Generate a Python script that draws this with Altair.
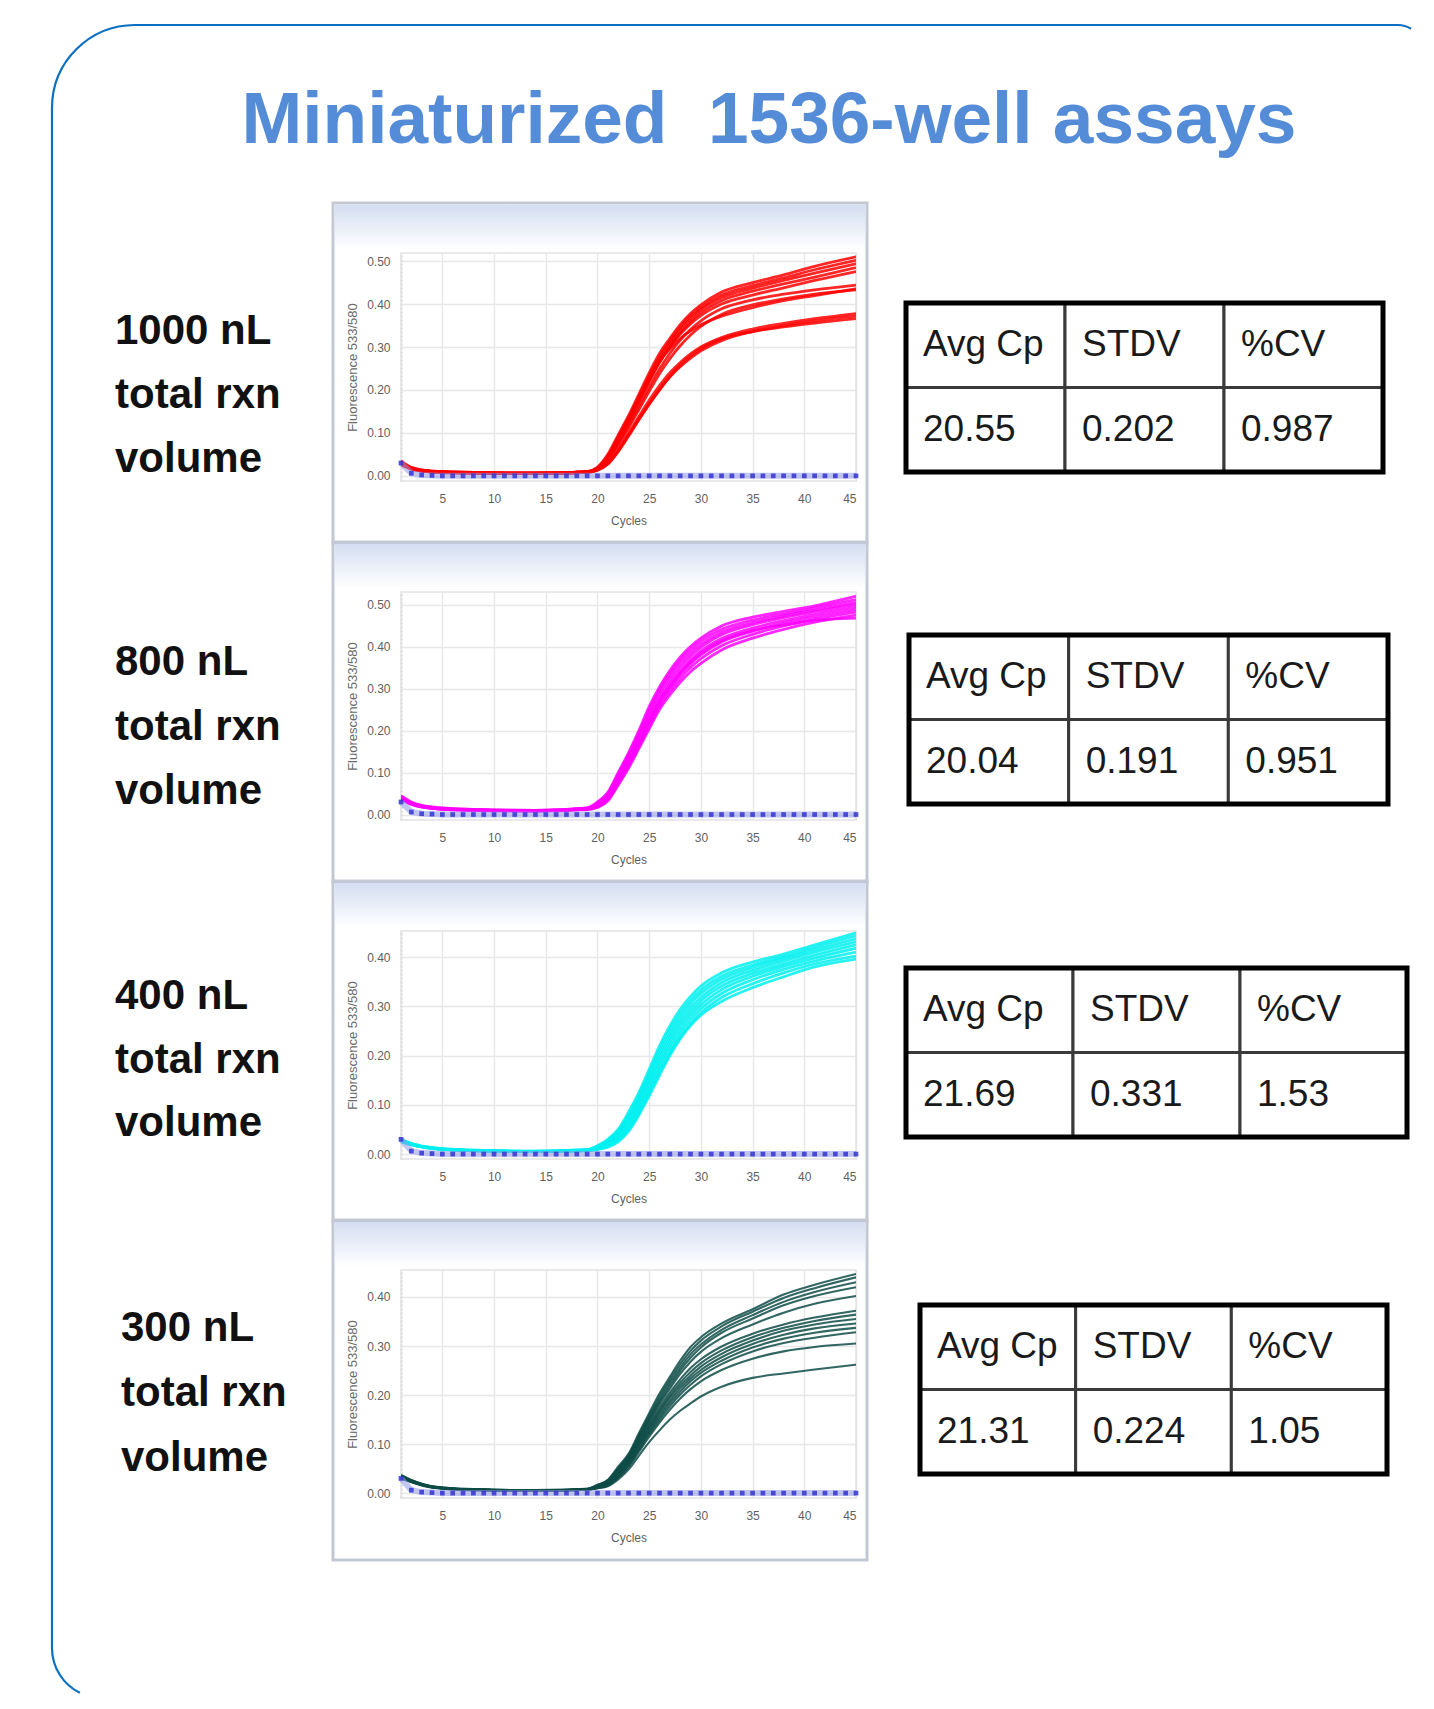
import math
import altair as alt
import pandas as pd

# ---------------- data ----------------
TITLE = "Miniaturized\u00a0 1536-well assays"
VOLUME_LABELS = [
    ["1000 nL", "total rxn", "volume"],
    ["800 nL", "total rxn", "volume"],
    ["400 nL", "total rxn", "volume"],
    ["300 nL", "total rxn", "volume"],
]
TABLE_HEADERS = ["Avg Cp", "STDV", "%CV"]
TABLE_VALUES = [
    ["20.55", "0.202", "0.987"],
    ["20.04", "0.191", "0.951"],
    ["21.69", "0.331", "1.53"],
    ["21.31", "0.224", "1.05"],
]
X_TICKS = [5, 10, 15, 20, 25, 30, 35, 40, 45]
Y_TICKS_HIGH = [0.0, 0.1, 0.2, 0.3, 0.4, 0.5]
Y_TICKS_LOW = [0.0, 0.1, 0.2, 0.3, 0.4]

CYCLES = [1, 2, 4, 8, 14, 19, 20, 21, 22, 23, 24, 25, 26, 27, 28, 29, 30, 32, 35, 38, 41, 45]

RED_CURVES = [
    [0.035, 0.020, 0.011, 0.008, 0.006, 0.010, 0.020, 0.050, 0.095, 0.140, 0.190, 0.240, 0.285, 0.320, 0.352, 0.378, 0.398, 0.428, 0.450, 0.468, 0.488, 0.510],
    [0.032, 0.019, 0.011, 0.008, 0.006, 0.010, 0.019, 0.046, 0.090, 0.135, 0.184, 0.233, 0.278, 0.314, 0.346, 0.372, 0.392, 0.421, 0.443, 0.461, 0.480, 0.502],
    [0.030, 0.018, 0.010, 0.007, 0.006, 0.009, 0.018, 0.043, 0.086, 0.130, 0.178, 0.226, 0.271, 0.308, 0.340, 0.366, 0.387, 0.415, 0.437, 0.455, 0.472, 0.494],
    [0.031, 0.018, 0.010, 0.007, 0.006, 0.009, 0.017, 0.041, 0.082, 0.125, 0.172, 0.220, 0.264, 0.301, 0.333, 0.359, 0.380, 0.408, 0.430, 0.447, 0.463, 0.485],
    [0.028, 0.017, 0.010, 0.007, 0.006, 0.009, 0.017, 0.042, 0.084, 0.127, 0.174, 0.221, 0.265, 0.300, 0.330, 0.354, 0.373, 0.400, 0.421, 0.438, 0.455, 0.476],
    [0.030, 0.018, 0.010, 0.007, 0.006, 0.009, 0.016, 0.038, 0.076, 0.117, 0.162, 0.207, 0.249, 0.285, 0.316, 0.341, 0.361, 0.389, 0.410, 0.423, 0.433, 0.444],
    [0.027, 0.016, 0.009, 0.007, 0.005, 0.008, 0.015, 0.036, 0.072, 0.111, 0.154, 0.197, 0.238, 0.273, 0.303, 0.328, 0.348, 0.376, 0.398, 0.412, 0.423, 0.433],
    [0.029, 0.017, 0.010, 0.007, 0.006, 0.009, 0.017, 0.044, 0.088, 0.132, 0.180, 0.226, 0.266, 0.296, 0.320, 0.338, 0.352, 0.372, 0.392, 0.408, 0.420, 0.436],
    [0.028, 0.017, 0.010, 0.007, 0.005, 0.008, 0.014, 0.031, 0.062, 0.099, 0.138, 0.176, 0.210, 0.240, 0.264, 0.284, 0.300, 0.322, 0.342, 0.355, 0.366, 0.378],
    [0.026, 0.016, 0.009, 0.006, 0.005, 0.008, 0.013, 0.028, 0.058, 0.095, 0.132, 0.168, 0.201, 0.230, 0.254, 0.274, 0.291, 0.315, 0.336, 0.350, 0.361, 0.372],
    [0.027, 0.016, 0.009, 0.006, 0.005, 0.008, 0.013, 0.027, 0.056, 0.092, 0.130, 0.166, 0.200, 0.232, 0.258, 0.279, 0.296, 0.319, 0.336, 0.347, 0.356, 0.366],
]

MAGENTA_CURVES = [
    [0.045, 0.030, 0.018, 0.012, 0.010, 0.016, 0.030, 0.053, 0.100, 0.147, 0.200, 0.257, 0.304, 0.343, 0.375, 0.400, 0.420, 0.449, 0.470, 0.484, 0.497, 0.520],
    [0.042, 0.028, 0.017, 0.012, 0.010, 0.015, 0.028, 0.050, 0.095, 0.142, 0.194, 0.249, 0.297, 0.336, 0.368, 0.393, 0.413, 0.441, 0.463, 0.478, 0.492, 0.512],
    [0.040, 0.027, 0.016, 0.011, 0.009, 0.015, 0.026, 0.047, 0.090, 0.136, 0.187, 0.241, 0.289, 0.328, 0.360, 0.385, 0.405, 0.434, 0.457, 0.473, 0.487, 0.505],
    [0.038, 0.026, 0.016, 0.011, 0.009, 0.014, 0.024, 0.044, 0.086, 0.131, 0.181, 0.233, 0.280, 0.319, 0.351, 0.377, 0.398, 0.428, 0.452, 0.469, 0.483, 0.500],
    [0.041, 0.027, 0.016, 0.011, 0.009, 0.014, 0.022, 0.041, 0.081, 0.126, 0.175, 0.226, 0.272, 0.310, 0.342, 0.368, 0.389, 0.419, 0.444, 0.462, 0.477, 0.494],
    [0.037, 0.025, 0.015, 0.011, 0.009, 0.013, 0.020, 0.038, 0.077, 0.120, 0.168, 0.218, 0.264, 0.301, 0.333, 0.359, 0.380, 0.411, 0.437, 0.456, 0.471, 0.488],
    [0.039, 0.026, 0.015, 0.010, 0.009, 0.013, 0.018, 0.035, 0.073, 0.115, 0.162, 0.210, 0.256, 0.293, 0.324, 0.350, 0.371, 0.402, 0.429, 0.449, 0.465, 0.482],
    [0.036, 0.024, 0.015, 0.010, 0.008, 0.012, 0.017, 0.032, 0.070, 0.110, 0.157, 0.204, 0.250, 0.285, 0.315, 0.340, 0.360, 0.392, 0.420, 0.441, 0.458, 0.475],
    [0.040, 0.026, 0.016, 0.011, 0.009, 0.014, 0.021, 0.040, 0.079, 0.123, 0.171, 0.222, 0.268, 0.305, 0.337, 0.363, 0.384, 0.414, 0.438, 0.452, 0.463, 0.468],
]

CYAN_CURVES = [
    [0.030, 0.022, 0.013, 0.008, 0.006, 0.009, 0.017, 0.030, 0.050, 0.085, 0.125, 0.172, 0.220, 0.260, 0.294, 0.320, 0.341, 0.368, 0.390, 0.406, 0.425, 0.449],
    [0.028, 0.021, 0.013, 0.008, 0.006, 0.009, 0.016, 0.028, 0.047, 0.080, 0.119, 0.165, 0.212, 0.252, 0.286, 0.312, 0.333, 0.361, 0.384, 0.401, 0.420, 0.443],
    [0.027, 0.020, 0.012, 0.007, 0.005, 0.008, 0.015, 0.026, 0.044, 0.075, 0.113, 0.158, 0.204, 0.244, 0.278, 0.305, 0.326, 0.355, 0.379, 0.397, 0.415, 0.437],
    [0.029, 0.021, 0.012, 0.007, 0.005, 0.008, 0.014, 0.024, 0.041, 0.070, 0.107, 0.151, 0.196, 0.236, 0.270, 0.297, 0.318, 0.348, 0.373, 0.392, 0.410, 0.431],
    [0.026, 0.019, 0.012, 0.007, 0.005, 0.008, 0.013, 0.022, 0.038, 0.065, 0.101, 0.144, 0.188, 0.228, 0.262, 0.289, 0.311, 0.341, 0.367, 0.386, 0.404, 0.425],
    [0.028, 0.020, 0.012, 0.007, 0.005, 0.007, 0.012, 0.020, 0.034, 0.060, 0.095, 0.137, 0.180, 0.220, 0.254, 0.281, 0.303, 0.334, 0.361, 0.381, 0.398, 0.418],
    [0.025, 0.019, 0.011, 0.007, 0.005, 0.007, 0.011, 0.018, 0.031, 0.055, 0.089, 0.130, 0.172, 0.212, 0.246, 0.273, 0.295, 0.326, 0.354, 0.375, 0.392, 0.410],
    [0.027, 0.020, 0.012, 0.007, 0.005, 0.007, 0.010, 0.016, 0.028, 0.050, 0.083, 0.124, 0.165, 0.204, 0.238, 0.265, 0.287, 0.318, 0.346, 0.368, 0.386, 0.402],
    [0.026, 0.019, 0.011, 0.007, 0.005, 0.007, 0.009, 0.014, 0.025, 0.046, 0.079, 0.118, 0.160, 0.200, 0.234, 0.261, 0.282, 0.310, 0.338, 0.360, 0.380, 0.396],
]

TEAL_CURVES = [
    [0.037, 0.027, 0.014, 0.008, 0.006, 0.009, 0.017, 0.027, 0.054, 0.080, 0.122, 0.163, 0.203, 0.237, 0.270, 0.298, 0.318, 0.346, 0.375, 0.405, 0.425, 0.447],
    [0.035, 0.026, 0.014, 0.008, 0.006, 0.009, 0.016, 0.026, 0.051, 0.077, 0.118, 0.158, 0.197, 0.231, 0.263, 0.290, 0.311, 0.340, 0.370, 0.398, 0.418, 0.440],
    [0.034, 0.025, 0.013, 0.007, 0.005, 0.008, 0.015, 0.025, 0.049, 0.075, 0.114, 0.153, 0.191, 0.225, 0.256, 0.283, 0.303, 0.333, 0.363, 0.390, 0.410, 0.430],
    [0.036, 0.026, 0.013, 0.007, 0.005, 0.008, 0.015, 0.024, 0.047, 0.073, 0.111, 0.149, 0.186, 0.219, 0.250, 0.276, 0.297, 0.327, 0.356, 0.383, 0.402, 0.420],
    [0.033, 0.025, 0.013, 0.007, 0.005, 0.008, 0.014, 0.023, 0.045, 0.071, 0.108, 0.145, 0.181, 0.213, 0.243, 0.268, 0.288, 0.316, 0.344, 0.368, 0.386, 0.402],
    [0.035, 0.025, 0.013, 0.007, 0.005, 0.008, 0.013, 0.021, 0.043, 0.068, 0.104, 0.140, 0.174, 0.205, 0.232, 0.255, 0.273, 0.299, 0.325, 0.344, 0.358, 0.372],
    [0.032, 0.024, 0.012, 0.007, 0.005, 0.007, 0.013, 0.020, 0.041, 0.066, 0.101, 0.136, 0.169, 0.199, 0.225, 0.247, 0.265, 0.291, 0.318, 0.337, 0.351, 0.364],
    [0.034, 0.025, 0.013, 0.007, 0.005, 0.007, 0.012, 0.019, 0.039, 0.064, 0.098, 0.132, 0.165, 0.194, 0.219, 0.240, 0.258, 0.284, 0.311, 0.331, 0.344, 0.355],
    [0.031, 0.023, 0.012, 0.007, 0.005, 0.007, 0.012, 0.018, 0.037, 0.062, 0.095, 0.128, 0.160, 0.188, 0.213, 0.234, 0.251, 0.277, 0.304, 0.323, 0.336, 0.346],
    [0.033, 0.024, 0.012, 0.007, 0.005, 0.007, 0.011, 0.017, 0.035, 0.059, 0.091, 0.124, 0.155, 0.183, 0.207, 0.228, 0.245, 0.270, 0.297, 0.315, 0.327, 0.337],
    [0.030, 0.023, 0.012, 0.006, 0.005, 0.007, 0.011, 0.016, 0.033, 0.056, 0.088, 0.120, 0.150, 0.177, 0.201, 0.221, 0.238, 0.263, 0.289, 0.306, 0.317, 0.328],
    [0.032, 0.023, 0.012, 0.006, 0.005, 0.007, 0.010, 0.015, 0.031, 0.053, 0.084, 0.115, 0.144, 0.170, 0.193, 0.212, 0.228, 0.251, 0.274, 0.289, 0.298, 0.305],
    [0.030, 0.022, 0.011, 0.006, 0.005, 0.007, 0.010, 0.014, 0.028, 0.048, 0.076, 0.104, 0.128, 0.150, 0.168, 0.183, 0.197, 0.217, 0.235, 0.244, 0.252, 0.262],
]

NEG_CYCLES = [1, 2, 3, 4, 5, 6, 7, 8, 9, 10, 11, 12, 13, 14, 15, 16, 17, 18, 19, 20, 21, 22, 23,
              24, 25, 26, 27, 28, 29, 30, 31, 32, 33, 34, 35, 36, 37, 38, 39, 40, 41, 42, 43, 44, 45]
NEG_VALUES = [0.030, 0.006, 0.002, 0.001, 0.0, 0.0, 0.0, 0.0, 0.0, 0.0, 0.0, 0.0, 0.0, 0.0, 0.0,
              0.0, 0.0, 0.0, 0.0, 0.0, 0.0, 0.0, 0.0, 0.0, 0.0, 0.0, 0.0, 0.0, 0.0, 0.0, 0.0, 0.0,
              0.0, 0.0, 0.0, 0.0, 0.0, 0.0, 0.0, 0.0, 0.0, 0.0, 0.0, 0.0, 0.0]

PANEL_CURVES = [RED_CURVES, MAGENTA_CURVES, CYAN_CURVES, TEAL_CURVES]
PANEL_COLORS = ["#FF0000", "#FF00FF", "#00F0F0", "#0E4B47"]
PANEL_Y_DOMAINS = [[-0.012, 0.519], [-0.013, 0.53], [-0.01, 0.453], [-0.01, 0.455]]
PANEL_Y_TICKS = [Y_TICKS_HIGH, Y_TICKS_HIGH, Y_TICKS_LOW, Y_TICKS_LOW]

# ---------------- layout (pixels) ----------------
ROW_H = 228
ROW_GAP = 111
COL_GAP = 50
LABEL_W = 240
PLOT_W = 455
TABLE_W = 520
LABEL_X = [4, 4, 4, 10]
LABEL_Y = [(78, 206), (70, 199), (65, 192), (58, 188)]
TABLE_BOX = [(0, 477, 50, 219), (3, 482, 43, 212), (0, 501, 37, 206), (14, 481, 35, 204)]

# outer rounded frame (relative to the first label cell), only top/left parts shown
FR_X, FR_X2, FR_Y, FR_Y2 = -59, 1312, -228, 1445
R_TL, R_TR, R_BL = 83, 25, 50
FW, FH = FR_X2 - FR_X, FR_Y2 - FR_Y
Q = math.pi / 2
_vis_a = (FW - R_TL - R_TR) + 0.35 * Q * R_TR
_gap = 0.65 * Q * R_TR + (FH - R_TR) + (FW - R_BL) + 0.29 * Q * R_BL
_vis_b = 0.71 * Q * R_BL + (FH - R_BL - R_TL) + Q * R_TL
FRAME_DASH = [round(_vis_a, 2), round(_gap, 2), round(_vis_b, 2)]

SANS = "Liberation Sans, Arial"
ONE = pd.DataFrame({"k": [0]})


def label_cell(i):
    df = pd.DataFrame({"line": [0, 1, 2], "text": VOLUME_LABELS[i]})
    y0, y1 = LABEL_Y[i]
    txt = alt.Chart(df).mark_text(
        align="left", baseline="middle", font=SANS, fontSize=42,
        fontWeight="bold", color="#111111"
    ).encode(
        x=alt.value(LABEL_X[i]),
        y=alt.Y("line:Q", scale=alt.Scale(domain=[0, 2], range=[y0, y1]), axis=None),
        text="text:N",
    )
    layers = []
    if i == 0:
        border = alt.Chart(ONE).mark_rect(
            fillOpacity=0, stroke="#0B6FC2", strokeWidth=2.2,
            cornerRadiusTopLeft=R_TL, cornerRadiusTopRight=R_TR,
            cornerRadiusBottomLeft=R_BL, cornerRadiusBottomRight=0,
            strokeDash=FRAME_DASH,
        ).encode(
            x=alt.value(FR_X), x2=alt.value(FR_X2), y=alt.value(FR_Y), y2=alt.value(FR_Y2)
        )
        title = alt.Chart(ONE).mark_text(
            align="center", baseline="alphabetic", font=SANS, fontSize=73,
            fontWeight="bold", color="#558CD7"
        ).encode(x=alt.value(658), y=alt.value(-110), text=alt.value(TITLE))
        layers += [border, title]
    layers.append(txt)
    return alt.layer(*layers).properties(width=LABEL_W, height=ROW_H)


def curve_cell(i):
    recs = []
    for w, vals in enumerate(PANEL_CURVES[i]):
        for c, v in zip(CYCLES, vals):
            recs.append({"well": w, "cycle": c, "f": v})
    df = pd.DataFrame(recs)
    neg = pd.DataFrame({"cycle": NEG_CYCLES, "f": NEG_VALUES})

    xs = alt.Scale(domain=[1, 45], nice=False, zero=False)
    ys = alt.Scale(domain=PANEL_Y_DOMAINS[i], nice=False, zero=False)
    xaxis = alt.Axis(
        values=X_TICKS, title="Cycles", grid=True, gridColor="#e8e8e8", gridWidth=1.5,
        ticks=False, domain=False, labelFontSize=12, labelColor="#5f5f5f",
        labelFont=SANS, labelPadding=12, titleFont=SANS, titleFontSize=12,
        titleFontWeight="normal", titleColor="#5f5f5f", titlePadding=11,
    )
    yaxis = alt.Axis(
        values=PANEL_Y_TICKS[i], format=".2f", title="Fluorescence 533/580",
        grid=True, gridColor="#e8e8e8", gridWidth=1.5, ticks=False,
        domain=True, domainColor="#e0e0e0", domainDash=[2, 2], domainWidth=3,
        labelFontSize=12, labelColor="#5f5f5f", labelFont=SANS, labelPadding=11,
        titleFont=SANS, titleFontSize=13, titleFontWeight="normal",
        titleColor="#6a6a6a", titlePadding=7,
    )

    box = alt.Chart(ONE).mark_rect(fillOpacity=0, stroke="#c3c9d4", strokeWidth=3).encode(
        x=alt.value(-68), x2=alt.value(PLOT_W + 11), y=alt.value(-50), y2=alt.value(290)
    )
    header = alt.Chart(ONE).mark_rect(
        fill=alt.LinearGradient(
            gradient="linear",
            stops=[alt.GradientStop(color="#d4def1", offset=0),
                   alt.GradientStop(color="#ffffff", offset=1)],
            x1=0, x2=0, y1=0, y2=1,
        )
    ).encode(x=alt.value(-66), x2=alt.value(PLOT_W + 9), y=alt.value(-48), y2=alt.value(-3))
    frame = alt.Chart(ONE).mark_rect(fillOpacity=0, stroke="#e2e2e2", strokeWidth=1.5).encode(
        x=alt.value(0), x2=alt.value(PLOT_W), y=alt.value(0), y2=alt.value(ROW_H)
    )
    lines = alt.Chart(df).mark_line(
        interpolate="monotone", strokeWidth=2.8 if i < 3 else 2.1,
        color=PANEL_COLORS[i], opacity=0.85, clip=True
    ).encode(
        x=alt.X("cycle:Q", scale=xs, axis=xaxis),
        y=alt.Y("f:Q", scale=ys, axis=yaxis),
        detail="well:N",
    )
    neg_line = alt.Chart(neg).mark_line(color="#8f97ea", strokeWidth=6, opacity=0.55).encode(
        x="cycle:Q", y="f:Q"
    )
    neg_pts = alt.Chart(neg).mark_square(size=22, color="#3434d0", opacity=0.85).encode(
        x="cycle:Q", y="f:Q"
    )
    return alt.layer(box, header, frame, lines, neg_line, neg_pts).properties(
        width=PLOT_W, height=ROW_H
    )


def table_cell(i):
    x0, x1, y0, y1 = TABLE_BOX[i]
    rows = []
    for r, texts in enumerate([TABLE_HEADERS, TABLE_VALUES[i]]):
        for c, t in enumerate(texts):
            rows.append({"c": c, "c2": c + 1, "r": r, "r2": r + 1, "rm": r + 0.5, "text": t})
    df = pd.DataFrame(rows)
    outer_df = pd.DataFrame({"c": [0], "c2": [3], "r": [0], "r2": [2]})
    xs = alt.Scale(domain=[0, 3], range=[x0, x1], nice=False, zero=False)
    ys = alt.Scale(domain=[0, 2], range=[y0, y1], nice=False, zero=False)

    cells = alt.Chart(df).mark_rect(fill="white", stroke="#3a3a3a", strokeWidth=3).encode(
        x=alt.X("c:Q", scale=xs, axis=None), x2="c2:Q",
        y=alt.Y("r:Q", scale=ys, axis=None), y2="r2:Q",
    )
    outer = alt.Chart(outer_df).mark_rect(fillOpacity=0, stroke="#000000", strokeWidth=5).encode(
        x=alt.X("c:Q", scale=xs, axis=None), x2="c2:Q",
        y=alt.Y("r:Q", scale=ys, axis=None), y2="r2:Q",
    )
    text = alt.Chart(df).mark_text(
        align="left", baseline="middle", dx=17, font=SANS, fontSize=37, color="#1a1a1a"
    ).encode(
        x=alt.X("c:Q", scale=xs, axis=None),
        y=alt.Y("rm:Q", scale=ys, axis=None),
        text="text:N",
    )
    return alt.layer(cells, outer, text).properties(width=TABLE_W, height=ROW_H)


panels = []
for i in range(4):
    panels += [label_cell(i), curve_cell(i), table_cell(i)]

chart = alt.concat(
    *panels, columns=3, spacing={"row": ROW_GAP, "column": COL_GAP}
).properties(
    bounds="flush",
    padding={"left": 42, "top": 15, "right": 0, "bottom": 0},
    background="white",
).configure_view(stroke=None)

chart.save("out.html", embed_options={"renderer": "svg", "actions": False})
